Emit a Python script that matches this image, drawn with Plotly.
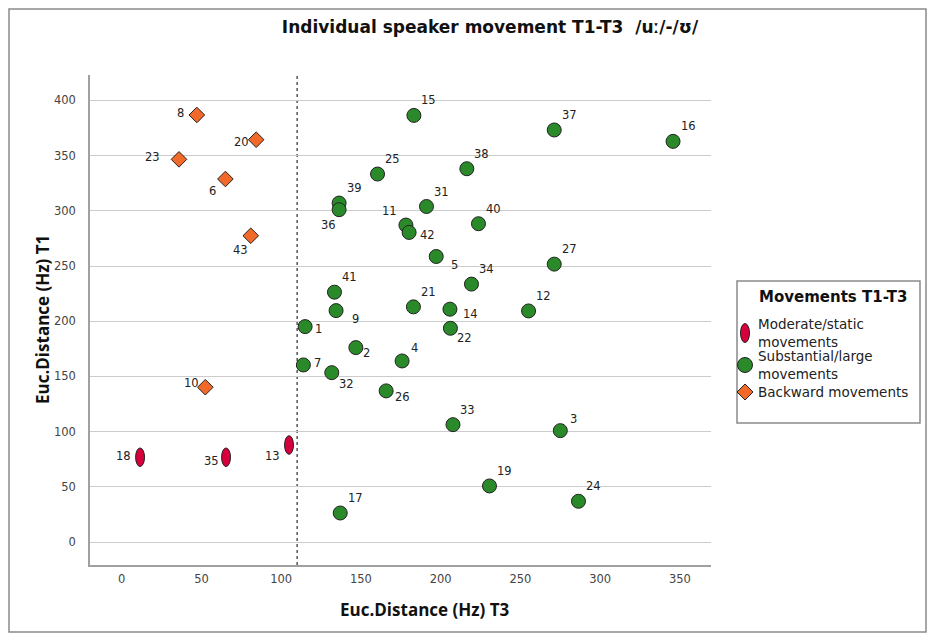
import plotly.graph_objects as go

# speaker ids and euclidean distances (Hz)
moderate_ids = ["18", "35", "13"]
moderate_t3 = [11.5, 65.4, 104.9]
moderate_t1 = [76.8, 76.8, 87.9]

substantial_ids = ["15", "37", "16", "38", "25", "39", "36", "31", "11", "42",
                   "40", "5", "27", "34", "41", "21", "14", "12", "9", "1",
                   "22", "2", "4", "7", "32", "26", "33", "3", "19", "24", "17"]
substantial_t3 = [183.2, 271.2, 345.7, 216.4, 160.4, 136.3, 136.3, 191.1, 178.2, 180.2,
                  223.7, 197.2, 271.2, 219.3, 133.4, 182.9, 205.8, 255.1, 134.4, 115.0,
                  206.1, 146.8, 175.8, 113.9, 131.7, 165.8, 207.7, 275.0, 230.6, 286.4, 137.0]
substantial_t1 = [386.4, 373.2, 362.9, 338.1, 333.3, 307.0, 301.0, 303.9, 287.1, 280.4,
                  288.3, 258.6, 251.7, 233.6, 226.3, 213.0, 210.9, 209.3, 209.6, 195.1,
                  193.6, 176.1, 164.0, 160.4, 153.4, 136.9, 106.3, 100.9, 50.8, 36.9, 26.3]

backward_ids = ["8", "20", "23", "6", "43", "10"]
backward_t3 = [47.1, 84.3, 35.9, 65.0, 80.9, 52.4]
backward_t1 = [386.8, 364.4, 346.6, 328.8, 277.4, 140.2]

ref_t3 = 110  # dashed reference line
x_ticks = [0, 50, 100, 150, 200, 250, 300, 350]
y_ticks = [0, 50, 100, 150, 200, 250, 300, 350, 400]

RED = "#d6003c"
GREEN = "#2a8a2a"
ORANGE = "#f26a2a"
EDGE = "#222222"

# label offsets in pixels (dx right, dy down) from the marker centre
label_offsets = {
    "8": (-16, -2), "20": (-15, 2), "23": (-26, -2), "6": (-13, 12), "43": (-10, 14), "10": (-14, -4),
    "18": (-17, -1), "35": (-15, 4), "13": (-17, 11),
    "36": (-11, 15), "11": (-16, -14), "42": (18, 3), "5": (18, 8), "9": (19, 8), "14": (21, 5),
    "22": (14, 10), "1": (13, 2), "2": (11, 5), "4": (12, -13), "7": (14, -2), "32": (15, 11),
    "26": (16, 6), "3": (13, -12),
}

# page body has an 8px margin, so the figure sits at (8, 8) in the screenshot
OFF = 8
W, H = 919, 625
L, R, T, B = 82, 216, 67, 68
PW, PH = W - L - R, H - T - B


def px(x):
    # screenshot x -> paper x
    return (x - OFF - L) / PW


def py(y):
    # screenshot y -> paper y
    return (H - B - (y - OFF)) / PH


fig = go.Figure()

fig.add_trace(go.Scatter(
    x=substantial_t3, y=substantial_t1, mode="markers", name="Substantial/large movements",
    text=substantial_ids, showlegend=False,
    marker=dict(size=14, color=GREEN, line=dict(color=EDGE, width=1))))
fig.add_trace(go.Scatter(
    x=backward_t3, y=backward_t1, mode="markers", name="Backward movements",
    text=backward_ids, showlegend=False,
    marker=dict(size=12, symbol="diamond", color=ORANGE, line=dict(color=EDGE, width=1))))
# moderate points: invisible hover markers, drawn as ellipses below
fig.add_trace(go.Scatter(
    x=moderate_t3, y=moderate_t1, mode="markers", name="Moderate/static movements",
    text=moderate_ids, showlegend=False, marker=dict(size=10, color=RED, opacity=0)))

shapes = []
for x, y in zip(moderate_t3, moderate_t1):
    shapes.append(dict(type="circle", xref="x", yref="y", x0=x - 2.8, x1=x + 2.8,
                       y0=y - 8.4, y1=y + 8.4, fillcolor=RED,
                       line=dict(color=EDGE, width=1), layer="above"))

shapes.append(dict(type="line", xref="x", yref="paper", x0=ref_t3, x1=ref_t3, y0=0, y1=1,
                   line=dict(color="#555555", width=1.5, dash="dot"), layer="below"))

# outer frame
shapes.append(dict(type="rect", xref="paper", yref="paper", x0=px(9), x1=px(926),
                   y0=py(632), y1=py(9), line=dict(color="#8a8a8a", width=1.5)))

# hand-made legend
shapes.append(dict(type="rect", xref="paper", yref="paper", x0=px(737), x1=px(920),
                   y0=py(423), y1=py(281), line=dict(color="#8a8a8a", width=1.5),
                   fillcolor="white"))
shapes.append(dict(type="circle", xref="paper", yref="paper", x0=px(740.5), x1=px(749.5),
                   y0=py(342.5), y1=py(323.5), fillcolor=RED, line=dict(color=EDGE, width=1)))
shapes.append(dict(type="circle", xref="paper", yref="paper", x0=px(737.5), x1=px(752.5),
                   y0=py(372.5), y1=py(357.5), fillcolor=GREEN, line=dict(color=EDGE, width=1)))
shapes.append(dict(type="path", xref="paper", yref="paper",
                   path=f"M {px(737)} {py(392)} L {px(745)} {py(384)} L {px(753)} {py(392)} "
                        f"L {px(745)} {py(400)} Z",
                   fillcolor=ORANGE, line=dict(color=EDGE, width=1)))

annotations = []
label_font = dict(family="DejaVu Sans", size=11.5, color="#222222")
for ids, xs, ys in [(moderate_ids, moderate_t3, moderate_t1),
                    (substantial_ids, substantial_t3, substantial_t1),
                    (backward_ids, backward_t3, backward_t1)]:
    for i, x, y in zip(ids, xs, ys):
        dx, dy = label_offsets.get(i, (15, -15))
        annotations.append(dict(x=x, y=y, text=i, showarrow=False, xshift=dx, yshift=-dy,
                                font=label_font))

legend_font = dict(family="DejaVu Sans", size=13.5, color="#222222")
annotations += [
    dict(xref="paper", yref="paper", x=px(757), y=py(297), text="<b>Movements T1-T3</b>",
         showarrow=False, xanchor="left", yanchor="middle",
         font=dict(family="DejaVu Sans", size=15, color="#111111")),
    dict(xref="paper", yref="paper", x=px(756), y=py(333), text="Moderate/static<br>movements",
         showarrow=False, xanchor="left", yanchor="middle", align="left", font=legend_font),
    dict(xref="paper", yref="paper", x=px(756), y=py(365), text="Substantial/large<br>movements",
         showarrow=False, xanchor="left", yanchor="middle", align="left", font=legend_font),
    dict(xref="paper", yref="paper", x=px(756), y=py(392), text="Backward movements",
         showarrow=False, xanchor="left", yanchor="middle", align="left", font=legend_font),
    dict(xref="paper", yref="paper", x=px(425), y=py(609), text="<b>Euc.Distance (Hz) T3</b>",
         showarrow=False, xanchor="center", yanchor="middle",
         font=dict(family="Open Sans", size=17, color="#111111")),
    dict(xref="paper", yref="paper", x=px(42), y=py(320), text="<b>Euc.Distance (Hz) T1</b>",
         showarrow=False, textangle=-90, xanchor="center", yanchor="middle",
         font=dict(family="Open Sans", size=17, color="#111111")),
]

fig.update_layout(
    width=W, height=H,
    margin=dict(l=L, r=R, t=T, b=B),
    paper_bgcolor="white", plot_bgcolor="white",
    showlegend=False,
    title=dict(text="<b>Individual speaker movement T1-T3  /uː/-/ʊ/</b>",
               x=(490 - OFF) / W, y=1 - (27 - OFF) / H, xanchor="center", yanchor="middle",
               font=dict(family="DejaVu Sans", size=17, color="#111111")),
    shapes=shapes,
    annotations=annotations,
)
fig.layout.title.xref = "container"
fig.layout.title.yref = "container"

fig.update_xaxes(range=[-19.9, 369.5], tickvals=x_ticks, showgrid=False, zeroline=False,
                 showline=True, linecolor="#a0a0a0", linewidth=1.5, ticks="",
                 ticklabelstandoff=2,
                 tickfont=dict(family="DejaVu Sans", size=11.5, color="#444444"))
fig.update_yaxes(range=[-20.8, 423], tickvals=y_ticks, showgrid=True, gridcolor="#cccccc",
                 gridwidth=1, zeroline=False, showline=True, linecolor="#a0a0a0", linewidth=1.5,
                 ticks="", ticklabelstandoff=10,
                 tickfont=dict(family="DejaVu Sans", size=11.5, color="#444444"))

fig.write_html("out.html")
